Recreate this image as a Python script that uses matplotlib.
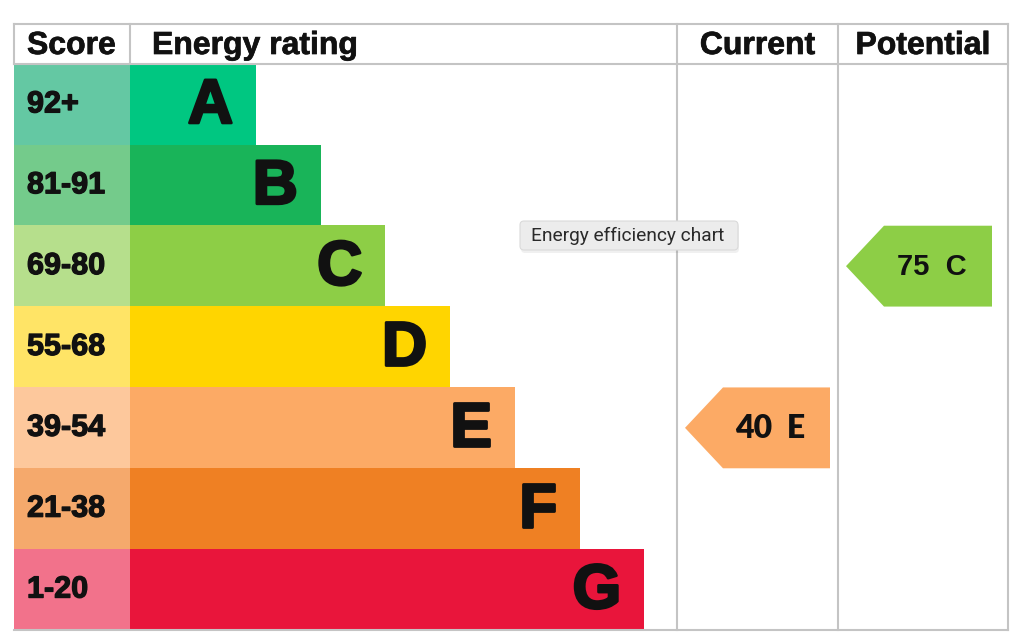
"""EPC style energy efficiency chart (current vs potential rating)."""

import matplotlib.patheffects as pe
import matplotlib.pyplot as plt
from matplotlib.font_manager import FontProperties
from matplotlib.patches import FancyBboxPatch, Polygon

ratings = ["A", "B", "C", "D", "E", "F", "G"]
score_ranges = ["92+", "81-91", "69-80", "55-68", "39-54", "21-38", "1-20"]
band_floor = [92, 81, 69, 55, 39, 21, 1]
bar_colors = ["#00c781", "#19b459", "#8dce46", "#ffd500", "#fcaa65", "#ef8023", "#e9153b"]
score_colors = ["#64c8a3", "#74cb8b", "#b6df8c", "#ffe466", "#fdc89c", "#f5a96c", "#f2728b"]
current_score = 40
potential_score = 75
headers = ["Score", "Energy rating", "Current", "Potential"]
tooltip_text = "Energy efficiency chart"

ink = "#111111"


def bold(size, family="Liberation Sans", weight="bold"):
    return FontProperties(family=family, weight=weight, size=size)


def band_of(score):
    for i, floor in enumerate(band_floor):
        if score >= floor:
            return i
    return len(band_floor) - 1


# layout in pixel units
left, top, right, bottom = 14, 24, 1008, 630
head_bottom = 64
col_score, col_current, col_potential = 130, 677, 838
row_h = (bottom - head_bottom) / len(ratings)
bar_step = 64.7
line_color = "#c4c4c4"

fig = plt.figure(figsize=(10.24, 6.44), dpi=100)
ax = fig.add_axes([0, 0, 1, 1])
ax.set_xlim(0, 1024)
ax.set_ylim(644, 0)
ax.axis("off")

centers = [head_bottom + row_h * (i + 0.5) for i in range(len(ratings))]
widths = [126 + bar_step * i for i in range(len(ratings))]

ax.barh(centers, col_score - left, left=left, height=row_h + 0.5, color=score_colors, linewidth=0)
ax.barh(centers, widths, left=col_score, height=row_h + 0.5, color=bar_colors, linewidth=0)

for y, w, letter, rng in zip(centers, widths, ratings, score_ranges):
    ax.text(col_score + w - 23, y + 2, letter, ha="right", va="center",
            fontproperties=bold(45), color=ink,
            path_effects=[pe.withStroke(linewidth=2.0, foreground=ink)])
    ax.text(27, y, rng, ha="left", va="center", fontproperties=bold(22), color=ink,
            path_effects=[pe.withStroke(linewidth=0.9, foreground=ink)])

# table lines
ax.plot([left, right], [top, top], color=line_color, lw=1.5)
ax.plot([left, right], [head_bottom, head_bottom], color=line_color, lw=1.5)
ax.plot([left, right], [bottom, bottom], color=line_color, lw=1.5)
ax.plot([left, left], [top, head_bottom], color=line_color, lw=1.5)
ax.plot([col_score, col_score], [top, head_bottom], color=line_color, lw=1.5)
for x in (col_current, col_potential, right):
    ax.plot([x, x], [top, bottom], color=line_color, lw=1.5)

header_x = [27, 152, (col_current + col_potential) / 2, (col_potential + right) / 2]
header_ha = ["left", "left", "center", "center"]
for x, ha, label in zip(header_x, header_ha, headers):
    ax.text(x, 46, label, ha=ha, va="center", fontproperties=bold(23), color=ink,
            path_effects=[pe.withStroke(linewidth=0.5, foreground=ink)])


def rating_arrow(score, col_left, col_right, font):
    i = band_of(score)
    y0 = head_bottom + row_h * i
    y1 = y0 + row_h
    tip = col_left + 8
    shoulder = tip + 38
    end = col_right - 8
    ax.add_patch(Polygon([(tip, (y0 + y1) / 2), (shoulder, y0), (end, y0),
                          (end, y1), (shoulder, y1)],
                         closed=True, color=bar_colors[i], lw=0))
    ax.text(end - 25, (y0 + y1) / 2 + 1, f"{score}  {ratings[i]}", ha="right",
            va="center", fontproperties=font, color=ink)


rating_arrow(current_score, col_current, col_potential, bold(23, "Lato", "heavy"))
rating_arrow(potential_score, col_potential, right - 8, bold(21))

# hover tooltip
ax.add_patch(FancyBboxPatch((521, 223), 218, 30, boxstyle="round,pad=0,rounding_size=4",
                            fc="#000000", ec="none", alpha=0.06, zorder=4))
ax.add_patch(FancyBboxPatch((520, 221), 218, 29, boxstyle="round,pad=0,rounding_size=4",
                            fc="#ececec", ec="#dadada", lw=0.8, zorder=5))
ax.text(531, 236, tooltip_text, ha="left", va="center",
        fontproperties=FontProperties(family="Roboto", size=13.8), color="#2a2a2a", zorder=6)

fig.savefig("out.png", dpi=100, facecolor="white")
